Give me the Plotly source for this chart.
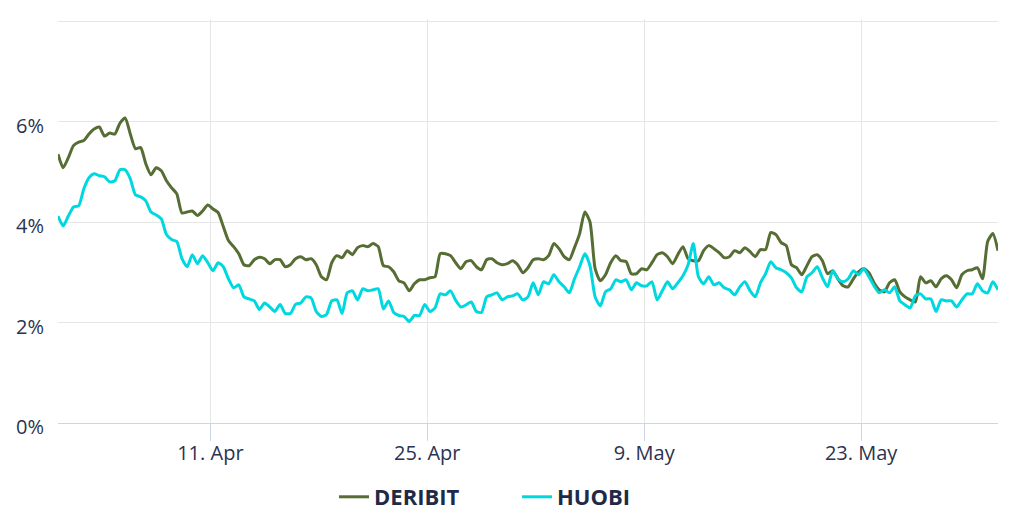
import pandas as pd
import plotly.graph_objects as go

# timestamps: 8-hour steps
dates = pd.date_range("2022-04-01 04:00", periods=183, freq="8h")

deribit = [
    5.35, 5.08, 5.28, 5.52, 5.59, 5.62, 5.75, 5.85, 5.89, 5.71,
    5.77, 5.75, 5.97, 6.07, 5.75, 5.46, 5.48, 5.16, 4.94, 5.08,
    5.02, 4.82, 4.68, 4.56, 4.18, 4.20, 4.22, 4.13, 4.22, 4.34,
    4.26, 4.19, 3.91, 3.63, 3.51, 3.37, 3.15, 3.13, 3.25, 3.30,
    3.27, 3.17, 3.25, 3.25, 3.11, 3.15, 3.27, 3.31, 3.25, 3.27,
    3.15, 2.91, 2.85, 3.19, 3.33, 3.29, 3.43, 3.35, 3.49, 3.53,
    3.51, 3.57, 3.51, 3.13, 3.11, 3.01, 2.83, 2.79, 2.63, 2.77,
    2.85, 2.85, 2.89, 2.91, 3.37, 3.37, 3.33, 3.19, 3.07, 3.21,
    3.23, 3.11, 3.05, 3.25, 3.27, 3.19, 3.15, 3.17, 3.23, 3.15,
    2.99, 3.09, 3.25, 3.27, 3.25, 3.33, 3.57, 3.47, 3.31, 3.25,
    3.49, 3.77, 4.20, 4.00, 3.07, 2.83, 2.95, 3.19, 3.33, 3.23,
    3.21, 2.97, 2.97, 3.07, 3.05, 3.19, 3.35, 3.39, 3.31, 3.17,
    3.35, 3.51, 3.27, 3.23, 3.23, 3.43, 3.53, 3.47, 3.39, 3.29,
    3.31, 3.43, 3.39, 3.49, 3.41, 3.31, 3.45, 3.45, 3.79, 3.75,
    3.59, 3.53, 3.15, 3.09, 2.95, 3.13, 3.31, 3.35, 3.23, 2.97,
    3.03, 2.87, 2.73, 2.71, 2.87, 3.01, 3.07, 2.99, 2.79, 2.65,
    2.61, 2.79, 2.85, 2.61, 2.51, 2.45, 2.41, 2.91, 2.79, 2.83,
    2.71, 2.87, 2.93, 2.85, 2.69, 2.95, 3.03, 3.05, 3.09, 2.87,
    3.61, 3.77, 3.43,
]

huobi = [
    4.12, 3.92, 4.12, 4.30, 4.32, 4.66, 4.88, 4.96, 4.92, 4.90,
    4.80, 4.82, 5.04, 5.04, 4.86, 4.54, 4.50, 4.42, 4.20, 4.14,
    4.06, 3.75, 3.65, 3.61, 3.27, 3.11, 3.35, 3.17, 3.33, 3.19,
    3.03, 3.19, 3.11, 2.87, 2.69, 2.75, 2.51, 2.47, 2.43, 2.26,
    2.39, 2.31, 2.22, 2.36, 2.18, 2.18, 2.36, 2.39, 2.51, 2.49,
    2.22, 2.12, 2.16, 2.43, 2.45, 2.18, 2.59, 2.63, 2.45, 2.67,
    2.63, 2.65, 2.67, 2.27, 2.43, 2.20, 2.14, 2.12, 2.02, 2.14,
    2.14, 2.36, 2.22, 2.29, 2.57, 2.55, 2.63, 2.44, 2.31, 2.35,
    2.41, 2.22, 2.20, 2.51, 2.55, 2.59, 2.45, 2.51, 2.53, 2.57,
    2.45, 2.51, 2.79, 2.55, 2.81, 2.77, 2.95, 2.81, 2.71, 2.59,
    2.87, 3.11, 3.37, 3.13, 2.51, 2.33, 2.61, 2.67, 2.85, 2.81,
    2.85, 2.65, 2.79, 2.73, 2.73, 2.81, 2.45, 2.63, 2.81, 2.67,
    2.79, 2.93, 3.15, 3.57, 2.91, 2.77, 2.91, 2.75, 2.79, 2.69,
    2.65, 2.55, 2.71, 2.81, 2.63, 2.51, 2.79, 2.97, 3.21, 3.09,
    3.05, 2.99, 2.89, 2.69, 2.61, 2.91, 2.99, 3.11, 2.89, 2.71,
    3.03, 2.87, 2.81, 2.87, 3.03, 2.95, 3.07, 2.91, 2.73, 2.59,
    2.65, 2.59, 2.71, 2.43, 2.35, 2.29, 2.53, 2.57, 2.47, 2.47,
    2.22, 2.45, 2.43, 2.43, 2.31, 2.45, 2.57, 2.57, 2.77, 2.63,
    2.59, 2.81, 2.65,
]

x_tick_dates = ["2022-04-11", "2022-04-25", "2022-05-09", "2022-05-23"]
x_tick_labels = ["11. Apr", "25. Apr", "9. May", "23. May"]
y_tick_vals = [0, 2, 4, 6, 8]
y_tick_labels = ["0%", "2%", "4%", "6%", ""]

TXT = "#2b3350"
FONT = "Open Sans, sans-serif"

fig = go.Figure()
fig.add_trace(go.Scatter(
    x=dates, y=deribit, name="DERIBIT", mode="lines",
    line=dict(color="#566d34", width=3, shape="spline", smoothing=0.6),
))
fig.add_trace(go.Scatter(
    x=dates, y=huobi, name="HUOBI", mode="lines",
    line=dict(color="#00d8e0", width=3, shape="spline", smoothing=0.6),
))

# the page body adds an 8px offset, so the figure is 8px smaller
fig.update_layout(
    width=1004, height=518,
    margin=dict(l=50, r=14, t=11, b=103, autoexpand=False),
    paper_bgcolor="white", plot_bgcolor="white",
    font=dict(family=FONT, size=20, color=TXT),
    showlegend=True,
    legend=dict(
        orientation="h", xref="container", x=0.507, xanchor="center",
        yref="container", y=0.056, yanchor="middle",
        font=dict(family=FONT, size=22, color="#1f2a48", weight="bold"),
        itemwidth=30, entrywidth=138, tracegroupgap=0,
    ),
    xaxis=dict(
        type="date", automargin=False,
        range=[dates[0], dates[-1]],
        tickvals=x_tick_dates, ticktext=x_tick_labels,
        showgrid=True, gridcolor="#e6e6e6", gridwidth=1,
        showline=True, linecolor="#ccd6eb", linewidth=1,
        ticks="outside", ticklen=17, tickcolor="#ccd6eb", tickwidth=1,
        ticklabelstandoff=-5,
        tickfont=dict(family=FONT, size=20, color=TXT),
        zeroline=False,
    ),
    yaxis=dict(
        automargin=False,
        range=[0, 8.04],
        tickvals=y_tick_vals, ticktext=y_tick_labels,
        showgrid=True, gridcolor="#e6e6e6", gridwidth=1,
        zeroline=False, showline=False,
        ticklabelstandoff=13, ticklabelshift=4,
        tickfont=dict(family=FONT, size=20, color=TXT),
    ),
)

fig.write_html("out.html")
